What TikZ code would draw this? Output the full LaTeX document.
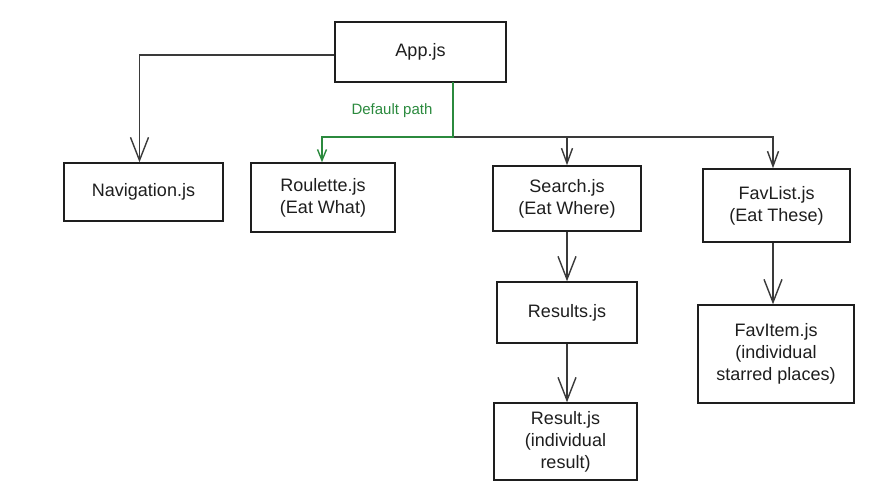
\documentclass[tikz,border=0pt]{standalone}
\usepackage{fontspec}
\setmainfont{Liberation Sans}
\usetikzlibrary{arrows.meta}
\definecolor{ink}{HTML}{1E1E1E}
\definecolor{wire}{HTML}{3A3A3A}
\definecolor{grn}{HTML}{2B8A3E}
\tikzset{
  box/.style={draw=ink, line width=1.5pt, rectangle, align=center, inner sep=2pt,
    font=\fontsize{18}{22}\selectfont, text=ink},
  arr/.style={draw=wire, line width=1.6pt, -{Straight Barb[length=23pt,width=18pt,line width=1.4pt]}},
  arrs/.style={draw=wire, line width=1.6pt, -{Straight Barb[length=15pt,width=11pt,line width=1.4pt]}},
  garr/.style={draw=grn, line width=2.5pt, -{Straight Barb[length=11pt,width=9pt,line width=1.4pt]}},
}
\begin{document}
\begin{tikzpicture}[x=1pt,y=-1pt]
\path[use as bounding box, fill=white] (0,0) rectangle (896,499);
\node[box, minimum width=171pt, minimum height=60pt] (app) at (420.5,52) {App.js};
\node[box, minimum width=159pt, minimum height=58pt] (nav) at (143.5,192) {Navigation.js};
\node[box, minimum width=144pt, minimum height=69pt] (roul) at (323,197.5) {Roulette.js\\(Eat What)};
\node[box, minimum width=148pt, minimum height=65pt] (search) at (567,198.5) {Search.js\\(Eat Where)};
\node[box, minimum width=147pt, minimum height=73pt] (fav) at (776.5,205.5) {FavList.js\\(Eat These)};
\node[box, minimum width=140pt, minimum height=61pt] (results) at (567,312.5) {Results.js};
\node[box, minimum width=156pt, minimum height=98pt] (favitem) at (776,354) {FavItem.js\\(individual\\starred places)};
\node[box, minimum width=143pt, minimum height=77pt] (result) at (565.5,441.5) {Result.js\\(individual\\result)};
\coordinate (j) at (453,137);
\coordinate (gs) at (453,82);
\draw[arr] ([yshift=-3pt]app.west) -| ([xshift=-4pt]nav.north);
\draw[wire, line width=1.6pt] (j) -- (773,137);
\draw[arrs] (j -| search.north) -- (search.north);
\draw[arrs] (j) -| ([xshift=-3.5pt]fav.north);
\draw[garr] (gs) -- (j) -| ([xshift=-1pt]roul.north);
\node[text=grn, font=\fontsize{15}{17}\selectfont] (dp) at (392,111) {Default path};
\draw[arr] (search.south) -- (results.north);
\draw[arr] (results.south) -- (results.south |- result.north);
\draw[arr] ([xshift=-3.5pt]fav.south) -- ([xshift=-3.5pt]fav.south |- favitem.north);
\end{tikzpicture}
\end{document}
